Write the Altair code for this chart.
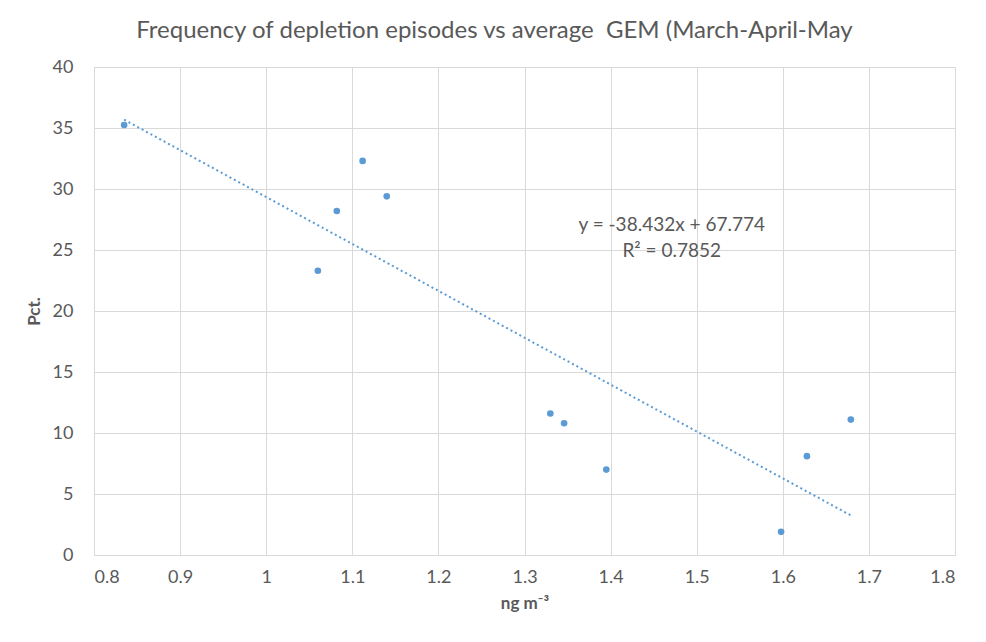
import altair as alt
import pandas as pd

gem = [0.835, 1.060, 1.082, 1.112, 1.140, 1.330, 1.346, 1.395, 1.598, 1.628, 1.679]
pct = [35.25, 23.3, 28.2, 32.3, 29.4, 11.6, 10.8, 7.0, 1.9, 8.1, 11.1]
slope = -38.432
intercept = 67.774
eq_lines = ["y = -38.432x + 67.774", "R\u00b2 = 0.7852"]
eq_x = [1.471, 1.471]
eq_y = [27.05, 24.9]
x_ticks = [0.8, 0.9, 1.0, 1.1, 1.2, 1.3, 1.4, 1.5, 1.6, 1.7, 1.8]
y_ticks = [0, 5, 10, 15, 20, 25, 30, 35, 40]

FONT = "Lato, 'Open Sans', sans-serif"
BLUE = "#5b9bd5"
GRAY = "#595959"

pts = pd.DataFrame({"gem": gem, "pct": pct})
trend = pd.DataFrame({"gem": [min(gem), max(gem)]})
trend["pct"] = slope * trend["gem"] + intercept
eq = pd.DataFrame({"label": eq_lines, "gem": eq_x, "pct": eq_y})

xscale = alt.Scale(domain=[0.8, 1.8], nice=False, zero=False)
yscale = alt.Scale(domain=[0, 40], nice=False)

xenc = alt.X("gem:Q", scale=xscale,
             axis=alt.Axis(values=x_ticks, format=".1~f", title="ng m\u207b\u00b3",
                           titleFontWeight="bold", titleFontSize=17, titleColor=GRAY,
                           labelFontSize=18, labelColor=GRAY, labelPadding=13,
                           titlePadding=9, ticks=False, domainColor="#d9d9d9",
                           gridColor="#d9d9d9", labelFont=FONT, titleFont=FONT))
yenc = alt.Y("pct:Q", scale=yscale,
             axis=alt.Axis(values=y_ticks, title="Pct.",
                           titleFontWeight="bold", titleFontSize=17, titleColor=GRAY,
                           labelFontSize=18, labelColor=GRAY, labelPadding=21,
                           titlePadding=9, ticks=False, domainColor="#d9d9d9",
                           gridColor="#d9d9d9", labelFont=FONT, titleFont=FONT))

line = alt.Chart(trend).mark_line(color=BLUE, strokeDash=[2, 3], strokeWidth=2).encode(
    x=xenc, y=yenc)
points = alt.Chart(pts).mark_circle(color=BLUE, size=44, opacity=1).encode(
    x=xenc, y=yenc)
text = alt.Chart(eq).mark_text(fontSize=19, color=GRAY, font=FONT, align="center",
                               baseline="middle").encode(
    x=xenc, y=yenc, text="label:N")

chart = (line + points + text).properties(
    width=861, height=488,
    title=alt.TitleParams("Frequency of depletion episodes vs average\u00a0 GEM (March-April-May",
                          fontSize=24, font=FONT, color=GRAY, fontWeight="normal",
                          anchor="middle", offset=15, dx=-30),
    autosize=alt.AutoSizeParams(type="none"),
    padding={"left": 86, "top": 59, "right": 20, "bottom": 60},
).configure_view(stroke=None)

chart.save("out.html", embed_options={"renderer": "svg", "actions": False})
